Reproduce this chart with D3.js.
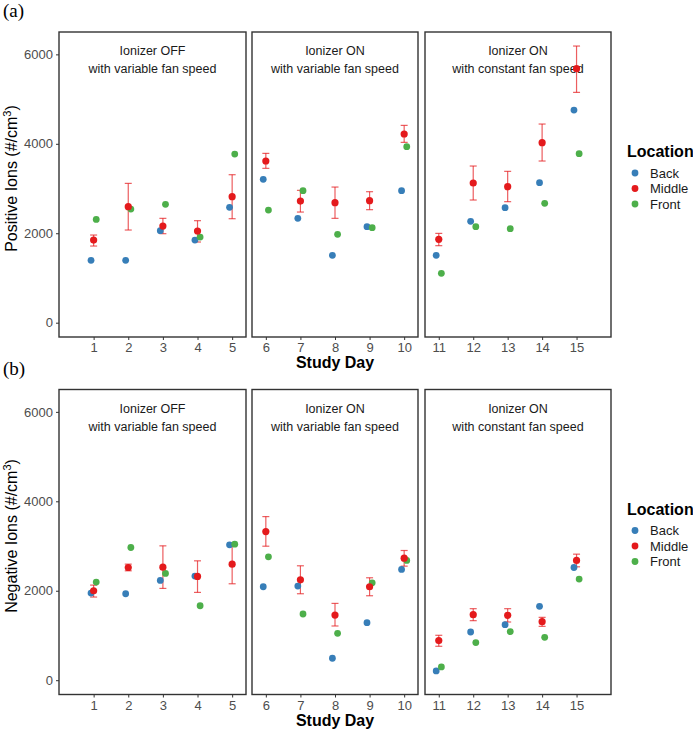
<!DOCTYPE html>
<html>
<head>
<meta charset="utf-8">
<script src="https://cdn.jsdelivr.net/npm/d3@7"></script>
<style>
  body { margin: 0; background: #fff; }
  text { font-family: "Liberation Sans", Arial, sans-serif; }
</style>
</head>
<body>
<div class="graph"></div>
<script>
var W = 693, H = 730;

// study days and facet groups
var days = [1,2,3,4,5,6,7,8,9,10,11,12,13,14,15];
var facetLabels = [
  ["Ionizer OFF", "with variable fan speed"],
  ["Ionizer ON", "with variable fan speed"],
  ["Ionizer ON", "with constant fan speed"]
];
var facetDays = [[1,2,3,4,5],[6,7,8,9,10],[11,12,13,14,15]];
var locations = ["Back", "Middle", "Front"];
var yTicks = [0, 2000, 4000, 6000];

// (a) positive ions
var posBack   = [1394,1394,2057,1848,2579, 3205,2333,1506,2147,2951, 1506,2266,2571,3130,4755];
var posMiddle = [1848,2594,2161,2050,2817, 3615,2720,2683,2728,4219, 1863,3123,3041,4025,5679];
var posMidLo  = [1714,2072,1990,1804,2325, 3451,2474,2333,2527,4032, 1722,2743,2706,3615,5150];
var posMidHi  = [1960,3115,2333,2281,3309, 3786,2959,3033,2929,4412, 1997,3503,3384,4442,6186];
var posFront  = [2310,2541,2646,1915,3771, 2519,2951,1975,2124,3935, 1103,2147,2102,2668,3779];

// (b) negative ions
var negBack   = [1948,1933,2230,2327,3026, 2089,2104, 491,1286,2476,  208,1078,1242,1651,2520];
var negMiddle = [2000,2520,2528,2320,2595, 3323,2245,1457,2089,2729,  885,1465,1450,1309,2677];
var negMidLo  = [1859,2446,2052,1963,2156, 2996,1933,1212,1888,2550,  758,1331,1301,1204,2535];
var negMidHi  = [2126,2595,3004,2669,3048, 3658,2558,1717,2290,2900, 1004,1599,1599,1405,2818];
var negFront  = [2193,2967,2387,1665,3041, 2758,1480,1048,2178,2677,  297, 840,1086, 959,2260];

var colors = {Back: "#377EB8", Middle: "#E41A1C", Front: "#4DAF4A"};
var dodge = {Back: -0.075, Middle: 0, Front: 0.075};

var svg = d3.select(".graph").append("svg")
  .attr("width", W).attr("height", H);

// facet panels share the same px per day, outer ones have extra room
var facetDomains = [[0, 5.4], [5.6, 10.4], [10.6, 16]];
var facetRanges = [[59, 246], [252, 418], [425, 611]];
var xScales = facetDomains.map(function(d, i) {
  return d3.scaleLinear().domain(d).range(facetRanges[i]);
});

function drawRow(top, tag, yTitle, back, mid, lo, hi, front) {
  var bottom = top + 305;
  var y = d3.scaleLinear().domain([-320, 6500]).range([bottom, top]);
  var g = svg.append("g");

  g.append("text")
    .attr("x", 3).attr("y", top - 15)
    .style("font-family", "'Liberation Serif', 'Times New Roman', serif")
    .style("font-size", "19px")
    .attr("fill", "#000")
    .text(tag);

  facetDays.forEach(function(fd, i) {
    var x = xScales[i];
    var p = g.append("g");

    // x axis ticks + labels
    var ax = p.append("g")
      .attr("transform", "translate(0," + bottom + ")")
      .call(d3.axisBottom(x).tickValues(fd).tickSize(3).tickPadding(3).tickFormat(d3.format("d")));
    ax.select(".domain").remove();
    ax.selectAll("line").attr("stroke", "#333");
    ax.selectAll("text")
      .style("font-family", "'Liberation Sans', Arial, sans-serif")
      .style("font-size", "13px").attr("fill", "#4d4d4d");

    // panel border
    p.append("rect")
      .attr("x", x.range()[0]).attr("y", top)
      .attr("width", x.range()[1] - x.range()[0])
      .attr("height", bottom - top)
      .attr("fill", "none").attr("stroke", "#333").attr("stroke-width", 1.4);

    // facet label inside panel
    var cx = (x.range()[0] + x.range()[1]) / 2;
    p.selectAll(".flab").data(facetLabels[i]).enter()
      .append("text")
      .attr("x", cx)
      .attr("y", function(d, j) { return top + 23 + j * 18; })
      .attr("text-anchor", "middle")
      .style("font-size", "12.5px")
      .attr("fill", "#1a1a1a")
      .text(function(d) { return d; });

    var pts = fd.map(function(day) {
      var k = days.indexOf(day);
      return {day: day, back: back[k], mid: mid[k], lo: lo[k], hi: hi[k], front: front[k]};
    });

    // error bars on Middle
    var eb = p.selectAll(".eb").data(pts).enter().append("g")
      .attr("stroke", colors.Middle).attr("stroke-opacity", 0.7)
      .attr("stroke-width", 1.2);
    eb.append("line")
      .attr("x1", function(d) { return x(d.day); })
      .attr("x2", function(d) { return x(d.day); })
      .attr("y1", function(d) { return y(d.lo); })
      .attr("y2", function(d) { return y(d.hi); });
    ["lo", "hi"].forEach(function(key) {
      eb.append("line")
        .attr("x1", function(d) { return x(d.day) - 3.5; })
        .attr("x2", function(d) { return x(d.day) + 3.5; })
        .attr("y1", function(d) { return y(d[key]); })
        .attr("y2", function(d) { return y(d[key]); });
    });

    // points
    [["Back", "back"], ["Front", "front"], ["Middle", "mid"]].forEach(function(s) {
      p.selectAll(".pt-" + s[0]).data(pts).enter()
        .append("circle")
        .attr("cx", function(d) { return x(d.day + dodge[s[0]]); })
        .attr("cy", function(d) { return y(d[s[1]]); })
        .attr("r", s[0] == "Middle" ? 3.6 : 3.4)
        .attr("fill", colors[s[0]]);
    });
  });

  // y axis on first facet only
  var ay = g.append("g")
    .attr("transform", "translate(" + facetRanges[0][0] + ",0)")
    .call(d3.axisLeft(y).tickValues(yTicks).tickSize(3).tickPadding(3).tickFormat(d3.format("d")));
  ay.select(".domain").remove();
  ay.selectAll("line").attr("stroke", "#333");
  ay.selectAll("text")
    .style("font-family", "'Liberation Sans', Arial, sans-serif")
    .style("font-size", "13px").attr("fill", "#4d4d4d");

  // y title with superscript
  var yt = g.append("text")
    .attr("transform", "translate(17," + ((top + bottom) / 2 - 6) + ") rotate(-90)")
    .attr("text-anchor", "middle")
    .style("font-size", "16px")
    .attr("fill", "#000");
  yt.append("tspan").text(yTitle + " (#/cm");
  yt.append("tspan").attr("dy", -6).style("font-size", "11px").text("3");
  yt.append("tspan").attr("dy", 6).text(")");

  // x title
  g.append("text")
    .attr("x", (facetRanges[0][0] + facetRanges[2][1]) / 2)
    .attr("y", bottom + 31)
    .attr("text-anchor", "middle")
    .style("font-size", "16px").style("font-weight", "bold")
    .attr("fill", "#000")
    .text("Study Day");

  // legend
  var lg = g.append("g");
  lg.append("text")
    .attr("x", 627).attr("y", top + 125)
    .style("font-size", "16px").style("font-weight", "bold")
    .attr("fill", "#000")
    .text("Location");
  var items = lg.selectAll(".li").data(locations).enter().append("g")
    .attr("transform", function(d, i) { return "translate(0," + (top + 141 + i * 15.5) + ")"; });
  items.append("circle").attr("cx", 635).attr("cy", 0).attr("r", 3.4)
    .attr("fill", function(d) { return colors[d]; });
  items.append("text").attr("x", 650).attr("y", 0).attr("dy", "0.35em")
    .style("font-size", "13px").attr("fill", "#1a1a1a")
    .text(function(d) { return d; });
}

drawRow(32, "(a)", "Positive Ions", posBack, posMiddle, posMidLo, posMidHi, posFront);
drawRow(389.5, "(b)", "Negative Ions", negBack, negMiddle, negMidLo, negMidHi, negFront);
</script>
</body>
</html>
